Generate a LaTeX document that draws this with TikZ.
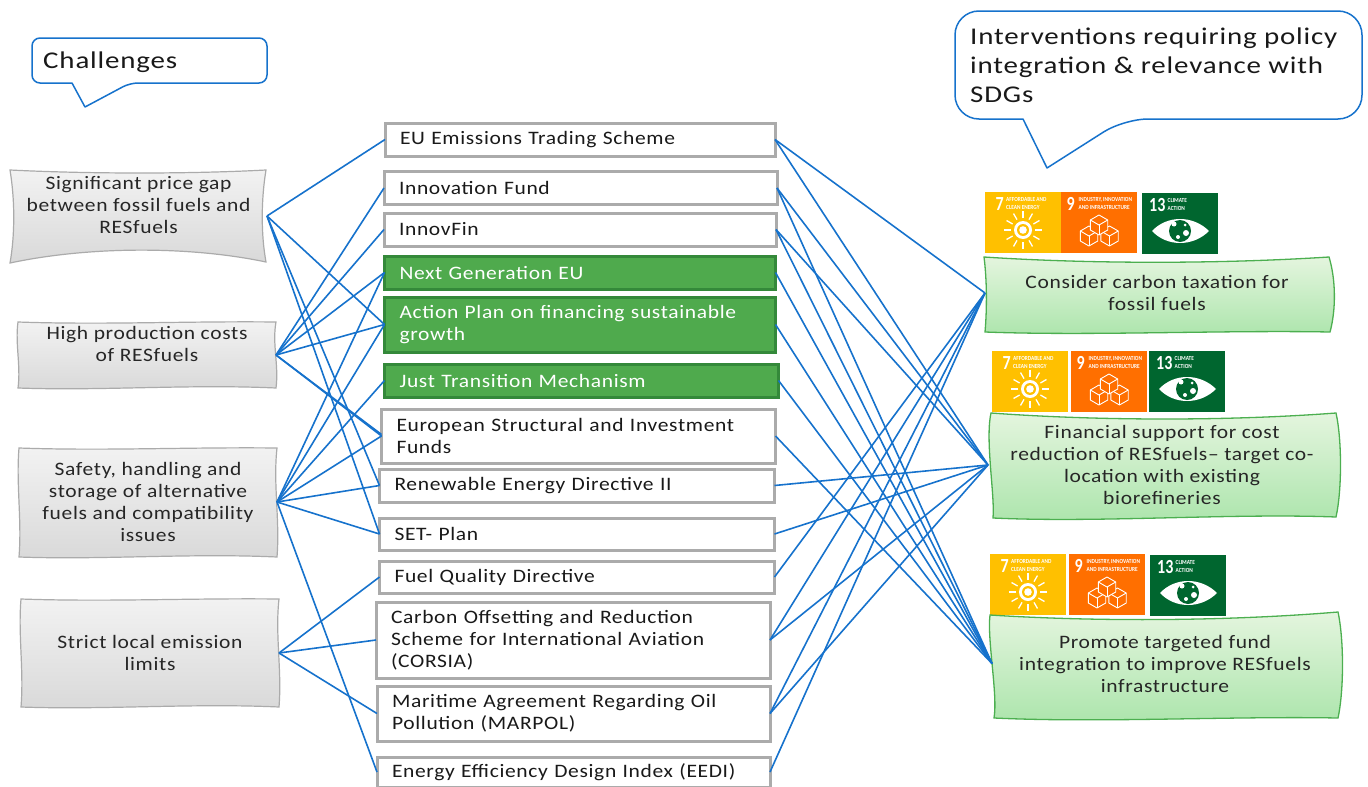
\documentclass[tikz,border=0pt]{standalone}
\usepackage{fontspec}
\setmainfont{Carlito}[LetterSpace=3.5,FakeStretch=1.132]
\newfontfamily\tilefont[FakeStretch=0.8]{Carlito}
\newfontfamily\tinyfont[FakeStretch=0.86]{Carlito}
\newfontfamily\callfont[LetterSpace=3.5,FakeStretch=1.206]{Carlito}
\usepackage{tikz}
\definecolor{linkblue}{HTML}{1672CC}
\definecolor{boxgray}{HTML}{ABABAB}
\definecolor{polgreen}{HTML}{4FAA4D}
\definecolor{polgreendark}{HTML}{34893A}
\definecolor{actgreen}{HTML}{4CAF50}
\definecolor{acttop}{HTML}{E4F5DE}
\definecolor{actbottom}{HTML}{ACE5AC}
\definecolor{sdgyellow}{HTML}{FFC000}
\definecolor{sdgorange}{HTML}{FF6F00}
\definecolor{sdggreen}{HTML}{00662F}
\newcommand{\wavyshape}[5]{%
\draw [#1] (#2,#3) .. controls ({#2+(#4-#2)*0.33},{#3+3}) and ({#2+(#4-#2)*0.66},{#3-1}) .. (#4,#3)
 .. controls ({#4-4},{#3+(#5-#3)*0.33}) and ({#4+3},{#3+(#5-#3)*0.66}) .. (#4,#5)
 .. controls ({#2+(#4-#2)*0.66},{#5-4}) and ({#2+(#4-#2)*0.33},{#5+3}) .. (#2,#5)
 .. controls ({#2+3},{#3+(#5-#3)*0.66}) and ({#2-3},{#3+(#5-#3)*0.33}) .. (#2,#3) -- cycle;}
\newcommand{\isocube}[3]{%
\filldraw [fill=sdgorange,draw=white,line width=0.9pt,line join=round] (#1,{#2-#3}) -- ({#1+0.87*#3},{#2-0.5*#3}) -- ({#1+0.87*#3},{#2+0.5*#3}) -- (#1,{#2+#3}) -- ({#1-0.87*#3},{#2+0.5*#3}) -- ({#1-0.87*#3},{#2-0.5*#3}) -- cycle;
\draw [white,line width=0.9pt] ({#1-0.87*#3},{#2-0.5*#3}) -- (#1,#2) -- ({#1+0.87*#3},{#2-0.5*#3});
\draw [white,line width=0.9pt] (#1,#2) -- (#1,{#2+#3});}
\tikzset{
 x=1pt,y=-1pt,
 chalshape/.style={draw=boxgray,line width=1.2pt,top color=black!5,bottom color=black!15},
 actshape/.style={draw=actgreen,line width=1.3pt,top color=acttop,bottom color=actbottom},
 chalbox/.style={align=center,inner sep=0pt,outer sep=0pt,font=\fontsize{19}{22}\selectfont,text=black!85},
 polbox/.style={draw=boxgray,line width=3pt,fill=white,align=left,inner xsep=15pt,inner ysep=0pt,outer sep=0pt,text width=#1,font=\fontsize{19}{22}\selectfont,text=black!90},
 greenbox/.style={polbox=#1,draw=polgreendark,fill=polgreen,text=white},
 link/.style={draw=linkblue,line width=1.6pt},
 callout/.style={draw=linkblue,line width=1.5pt,fill=white,line join=round},
 callouttext/.style={anchor=west,align=left,inner sep=0pt,font=\fontsize{24}{29}\callfont,text=black!90},
 tilenum/.style={anchor=west,inner sep=0pt,text=white,font=\fontsize{20}{20}\tilefont\bfseries},
 tiletxt/.style={anchor=west,align=left,inner sep=0pt,text=white,font=\fontsize{6.2}{7.8}\tinyfont\bfseries},
 sdgseven/.pic={
  \fill [sdgyellow] (0,0) rectangle (76,61);
  \node (-num) [tilenum] at (10.5,12) {7};
  \node (-txt) [tiletxt] at (21,11.5) {AFFORDABLE AND\\CLEAN ENERGY};
  \foreach \a in {0,30,...,330}
   \draw [white,line width=1.3pt] ($(38,38)+(\a:12)$) -- ($(38,38)+(\a:19)$);
  \fill [white] (38,38) circle (9);
  \fill [sdgyellow] (38,38) circle (6);
  \fill [white] (38,38) circle (3.8);
 },
 sdgnine/.pic={
  \fill [sdgorange] (0,0) rectangle (76,61);
  \node (-num) [tilenum] at (5.5,12) {9};
  \node (-txt) [tiletxt] at (17.5,11.5) {INDUSTRY, INNOVATION\\AND INFRASTRUCTURE};
  \isocube{28}{44}{10}
  \isocube{48.5}{44}{10}
  \isocube{38}{33}{10}
 },
 sdgthirteen/.pic={
  \fill [sdggreen] (0,0) rectangle (76,61);
  \node (-num) [tilenum] at (7,12) {13};
  \node (-txt) [tiletxt] at (25.5,11.5) {CLIMATE\\ACTION};
  \fill [white] (10,38) .. controls (25,22) and (51,22) .. (67,38) .. controls (51,54) and (25,54) .. (10,38) -- cycle;
  \fill [sdggreen] (38,38) circle (11);
  \fill [white] (32,31) circle (2.5);
  \fill [white] (44,40) circle (3);
  \fill [white] (36,44) circle (2);
  \fill [white] (43,32) circle (1.5);
 },
}
\usetikzlibrary{calc}
\begin{document}
\begin{tikzpicture}
\useasboundingbox (0,0) rectangle (1368,787);
\clip (0,0) rectangle (1368,787);
% callouts
\draw [callout,rounded corners=8pt] (85,107) [sharp corners] -- (72,83) [rounded corners=8pt] -- (32,83) -- (32,38) -- (267,38) -- (267,83) -- (130,83) [sharp corners] -- cycle;
\node (chalhead) [callouttext] at (43,62) {Challenges};
\draw [callout,rounded corners=24pt] (1047,168) [sharp corners] -- (1023,119) [rounded corners=24pt] -- (955,119) -- (955,11) -- (1362,11) -- (1362,119) -- (1124,119) [sharp corners] -- cycle;
\node (acthead) [callouttext] at (970,65) {Interventions requiring policy\\integration \& relevance with\\SDGs};
% challenges
\draw [chalshape] (10,170) .. controls (90,174) and (190,174) .. (266,170) .. controls (261,200) and (261,235) .. (266,262) .. controls (190,246) and (90,246) .. (10,263) .. controls (15,235) and (15,200) .. (10,170) -- cycle;
\wavyshape{chalshape}{18}{322}{276}{388}
\wavyshape{chalshape}{19}{448}{277}{557}
\wavyshape{chalshape}{21}{599}{279}{707}
\node (chal1) [chalbox,minimum width=257pt,minimum height=93pt] at (138.5,216) {Significant price gap\\between fossil fuels and\\RESfuels\\ ~};
\node (chal2) [chalbox,minimum width=258pt,minimum height=66pt] at (147,355) {High production costs\\of RESfuels\\ ~};
\node (chal3) [chalbox,minimum width=258pt,minimum height=109pt] at (148,502) {Safety, handling and\\storage of alternative\\fuels and compatibility\\issues};
\node (chal4) [chalbox,minimum width=258pt,minimum height=108pt] at (150,653) {Strict local emission\\limits};
% policies
\node (pol1) [polbox=360pt,minimum height=33pt] at (580,139.5) {EU Emissions Trading Scheme};
\node (pol2) [polbox=363pt,minimum height=33pt] at (580.5,188) {Innovation Fund};
\node (pol3) [polbox=362pt,minimum height=33pt] at (580,229.5) {InnovFin};
\node (pol4) [greenbox=361pt,minimum height=33pt] at (580,272.5) {Next Generation EU};
\node (pol5) [greenbox=361pt,minimum height=55pt] at (580,324.5) {Action Plan on financing sustainable\\growth};
\node (pol6) [greenbox=364pt,minimum height=33pt] at (581.5,380.5) {Just Transition Mechanism};
\node (pol7) [polbox=364pt,minimum height=54pt] at (578.5,436) {European Structural and Investment\\Funds};
\node (pol8) [polbox=365pt,minimum height=33pt] at (577,485.5) {Renewable Energy Directive II};
\node (pol9) [polbox=365pt,minimum height=32pt] at (577,534) {SET- Plan};
\node (pol10) [polbox=365pt,minimum height=32pt] at (577,577) {Fuel Quality Directive};
\node (pol11) [polbox=364pt,minimum height=76pt] at (573,640) {Carbon Offsetting and Reduction\\Scheme for International Aviation\\(CORSIA)};
\node (pol12) [polbox=363pt,minimum height=55pt] at (573.5,713.5) {Maritime Agreement Regarding Oil\\Pollution (MARPOL)};
\node (pol13) [polbox=363pt,minimum height=30pt] at (573.5,772) {Energy Efficiency Design Index (EEDI)};
% SDG tiles
\pic (sa) at (985,192) {sdgseven};
\pic (sb) at (1061,192) {sdgnine};
\pic (sc) at (1142,193) {sdgthirteen};
\pic (sd) at (992,351) {sdgseven};
\pic (se) at (1071,351) {sdgnine};
\pic (sf) at (1149,351) {sdgthirteen};
\pic (sg) at (990,554) {sdgseven};
\pic (sh) at (1069,554) {sdgnine};
\pic (si) at (1150,555) {sdgthirteen};
% interventions
\draw [actshape] (984,257) .. controls (1090,264) and (1220,264) .. (1329,257) .. controls (1336,280) and (1336,310) .. (1330,332) .. controls (1220,330) and (1090,336) .. (985,332) .. controls (987,310) and (987,280) .. (984,257) -- cycle;
\draw [actshape] (991,413) .. controls (1100,421) and (1230,421) .. (1336,413) .. controls (1342,440) and (1342,490) .. (1336,517) .. controls (1230,513) and (1100,523) .. (993,518) .. controls (995,495) and (985,440) .. (991,413) -- cycle;
\draw [actshape] (990,615) .. controls (1100,622) and (1230,621) .. (1338,612) .. controls (1344,640) and (1344,690) .. (1338,718) .. controls (1230,716) and (1100,723) .. (994,718) .. controls (998,695) and (987,640) .. (990,615) -- cycle;
\node (act1) [chalbox,minimum width=344pt,minimum height=75pt] at (1157,293) {Consider carbon taxation for\\fossil fuels};
\node (act2) [chalbox,minimum width=348pt,minimum height=105pt] at (1162,465) {Financial support for cost\\reduction of RESfuels-- target co-\\location with existing\\biorefineries};
\node (act3) [chalbox,minimum width=346pt,minimum height=105pt] at (1165,663.5) {Promote targeted fund\\integration to improve RESfuels\\infrastructure};
% links challenges to policies
\draw [link] (chal1.east)-- (pol1.west);
\draw [link] (chal1.east)-- (pol5.west);
\draw [link] (chal1.east)-- (pol8.west);
\draw [link] (chal1.east)-- (pol9.west);
\draw [link] (chal2.east)-- (pol2.west);
\draw [link] (chal2.east)-- (pol3.west);
\draw [link] (chal2.east)-- (pol4.west);
\draw [link] (chal2.east)-- (pol5.west);
\draw [link] (chal2.east)-- (pol7.west);
\draw [link] (chal2.east)-- ([yshift=1.5pt]pol7.west);
\draw [link] (chal3.east)-- (pol4.west);
\draw [link] (chal3.east)-- (pol5.west);
\draw [link] (chal3.east)-- (pol6.west);
\draw [link] (chal3.east)-- (pol7.west);
\draw [link] (chal3.east)-- (pol8.west);
\draw [link] (chal3.east)-- (pol9.west);
\draw [link] (chal3.east)-- (pol13.west);
\draw [link] (chal4.east)-- (pol10.west);
\draw [link] (chal4.east)-- (pol11.west);
\draw [link] (chal4.east)-- (pol12.west);
% links policies to interventions
\draw [link] (pol1.east)-- (act1.west);
\draw [link] (pol1.east)-- (act2.west);
\draw [link] (pol2.east)-- (act2.west);
\draw [link] (pol2.east)-- (act3.west);
\draw [link] (pol3.east)-- (act2.west);
\draw [link] (pol3.east)-- (act3.west);
\draw [link] (pol4.east)-- (act3.west);
\draw [link] (pol5.east)-- (act3.west);
\draw [link] (pol6.east)-- (act3.west);
\draw [link] (pol7.east)-- (act3.west);
\draw [link] (pol8.east)-- (act2.west);
\draw [link] (pol9.east)-- (act2.west);
\draw [link] (pol10.east)-- (act1.west);
\draw [link] (pol11.east)-- (act1.west);
\draw [link] (pol11.east)-- (act2.west);
\draw [link] (pol12.east)-- (act1.west);
\draw [link] (pol12.east)-- (act2.west);
\draw [link] (pol13.east)-- (act1.west);
\end{tikzpicture}
\end{document}
